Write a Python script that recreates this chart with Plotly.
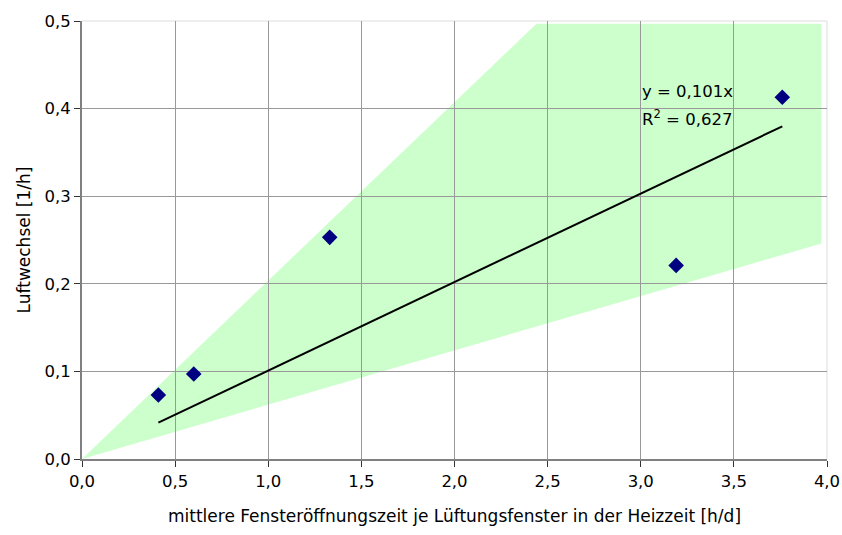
import plotly.graph_objects as go

# data
x_vals = [0.41, 0.60, 1.33, 3.19, 3.76]
y_vals = [0.073, 0.097, 0.253, 0.221, 0.413]
trend_slope = 0.101
trend_x = [0.41, 3.76]
band_x = [0.0, 2.44, 3.97, 3.97]
band_y = [0.0, 0.497, 0.497, 0.246]
x_ticks = [0.0, 0.5, 1.0, 1.5, 2.0, 2.5, 3.0, 3.5, 4.0]
y_ticks = [0.0, 0.1, 0.2, 0.3, 0.4, 0.5]
eq_line1 = "y = 0,101x"
eq_line2 = "R<sup>2</sup> = 0,627"

font = dict(family="DejaVu Sans, sans-serif", size=16.5, color="black")
title_font = dict(family="DejaVu Sans, sans-serif", size=17, color="black")

fig = go.Figure()

path = "M " + " L ".join(f"{a},{b}" for a, b in zip(band_x, band_y)) + " Z"
fig.add_shape(type="path", path=path, xref="x", yref="y",
              fillcolor="#CCFFCC", line=dict(width=0), layer="below")

fig.add_trace(go.Scatter(x=trend_x, y=[trend_slope * v for v in trend_x],
                         mode="lines", line=dict(color="black", width=2),
                         showlegend=False, hoverinfo="skip"))
fig.add_trace(go.Scatter(x=x_vals, y=y_vals, mode="markers",
                         marker=dict(symbol="diamond", size=12, color="#000080"),
                         showlegend=False))

fig.add_annotation(x=2.995, y=0.419, xref="x", yref="y", text=eq_line1,
                   showarrow=False, xanchor="left", yanchor="middle", font=font)
fig.add_annotation(x=2.995, y=0.389, xref="x", yref="y", text=eq_line2,
                   showarrow=False, xanchor="left", yanchor="middle", font=font)

fig.update_layout(
    width=852, height=535,
    margin=dict(l=82, r=14, t=15, b=65, pad=0),
    paper_bgcolor="white", plot_bgcolor="white",
    separators=",.",
    font=font,
    xaxis=dict(range=[0, 4], tickvals=x_ticks, tickformat=".1f",
               tickfont=font,
               showgrid=True, gridcolor="#999999", gridwidth=1,
               showline=True, linecolor="#808080", linewidth=2,
               ticks="outside", ticklen=6, tickcolor="#333333",
               zeroline=False,
               title=dict(text="mittlere Fensteröffnungszeit je Lüftungsfenster in der Heizzeit [h/d]",
                          font=title_font, standoff=20)),
    yaxis=dict(range=[0, 0.5], tickvals=y_ticks, tickformat=".1f",
               tickfont=font,
               showgrid=True, gridcolor="#999999", gridwidth=1,
               showline=True, linecolor="#808080", linewidth=2,
               ticks="outside", ticklen=6, tickcolor="#333333",
               zeroline=False,
               title=dict(text="Luftwechsel [1/h]", font=title_font, standoff=10)),
)
fig.add_shape(type="line", xref="paper", yref="paper", x0=0, x1=1, y0=1, y1=1,
              line=dict(color="#dddddd", width=1), layer="below")
fig.add_shape(type="line", xref="paper", yref="paper", x0=1, x1=1, y0=0, y1=1,
              line=dict(color="#dddddd", width=1), layer="below")

fig.write_html("out.html",
               config={"displayModeBar": False},
               post_script="document.body.style.margin='0';document.body.style.overflow='hidden';")
